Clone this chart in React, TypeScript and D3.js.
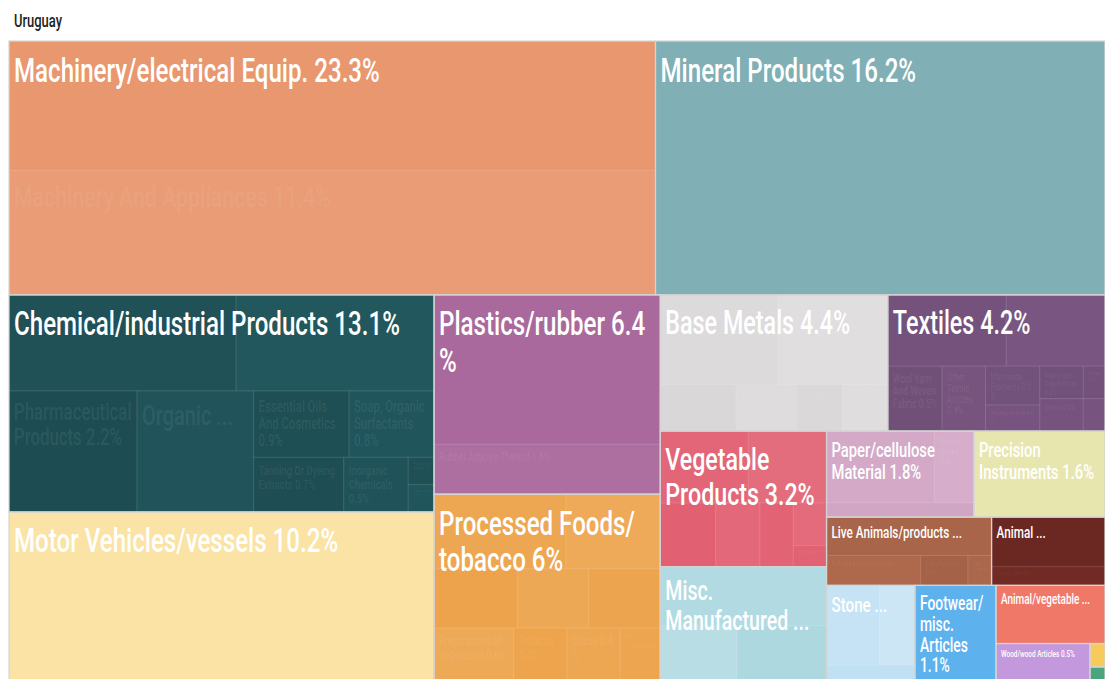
import React from "react";
import * as d3 from "d3";

// ---------- data ----------
const TITLE = "Uruguay";

const sectorNames = [
  "Machinery/electrical Equip.", "Mineral Products", "Chemical/industrial Products",
  "Motor Vehicles/vessels", "Plastics/rubber", "Processed Foods/tobacco", "Base Metals",
  "Textiles", "Vegetable Products", "Misc. Manufactured Articles", "Paper/cellulose Material",
  "Precision Instruments", "Live Animals/products", "Animal Hides", "Stone/glass",
  "Footwear/misc. Articles", "Animal/vegetable Fats", "Wood/wood Articles", "Arts/antiques", "Weapons",
];
const sectorValues = [23.3, 16.2, 13.1, 10.2, 6.4, 6.0, 4.4, 4.2, 3.2, 2.7, 1.8, 1.6, 1.6, 1.1, 1.2, 1.1, 0.9, 0.5, 0.05, 0.03];
const sectorLabels = [
  "Machinery/electrical Equip. 23.3%", "Mineral Products 16.2%", "Chemical/industrial Products 13.1%",
  "Motor Vehicles/vessels 10.2%", "Plastics/rubber 6.4%", "Processed Foods/tobacco 6%", "Base Metals 4.4%",
  "Textiles 4.2%", "Vegetable Products 3.2%", "Misc. Manufactured ...", "Paper/cellulose Material 1.8%",
  "Precision Instruments 1.6%", "Live Animals/products ...", "Animal ...", "Stone ...",
  "Footwear/misc. Articles 1.1%", "Animal/vegetable ...", "Wood/wood Articles 0.5%", "", "",
];
const sectorColors = [
  "#E8976F", "#80B0B5", "#1F5157", "#FBE3A5", "#AA699D", "#EDA651", "#DCDADA",
  "#74527C", "#E26677", "#B2DAE2", "#D3A9C7", "#E8E6AF", "#A8654A", "#6B2822",
  "#C5E3F4", "#5DB2EE", "#F07869", "#C398DD", "#F6CA5B", "#4AA47C",
];
// how the sectors are grouped into strips (h = row across the top, v = column at the left)
const sectorStrips = ["h2", "v2", "v2", "h2", "v2", "h2", "h2", "v1", "v1", "h1", "v1", "v2"];

// sub-products (faint inner cells)
const machineryParts = ["Electrical Machinery", "Machinery And Appliances"];
const machineryValues = [11.9, 11.4];
const mineralParts = ["Mineral Fuels And Oils"];
const mineralValues = [15.9];
const chemicalParts = [
  "Miscellaneous Chemical Products", "Fertilizers", "Pharmaceutical Products", "Organic ...",
  "Essential Oils And Cosmetics", "Soap, Organic Surfactants", "Tanning Or Dyeing Extracts",
  "Inorganic Chemicals", "Photographic Goods", "Albuminoids",
];
const chemicalValues = [3.1, 2.7, 2.2, 2.0, 0.9, 0.8, 0.7, 0.5, 0.1, 0.1];
const plasticsParts = ["Plastics And Articles Thereof", "Rubber Articles Thereof"];
const plasticsValues = [4.8, 1.6];
const foodParts = [
  "Residues From Food Industries", "Miscellaneous Edible Preparations", "Sugars And Sugar Confectionery",
  "Preparations Of Cereals", "Beverages, Spirits And Vinegar", "Preparations Of Vegetables",
  "Tobacco", "Cocoa", "Meat Preparations",
];
const foodValues = [1.4, 1.0, 0.7, 0.6, 0.6, 0.6, 0.4, 0.4, 0.3];
const metalParts = ["Articles Of Iron Or Steel", "Iron And Steel", "Tools And Cutlery", "Aluminium", "Copper", "Misc. Base Metal Articles"];
const metalValues = [1.5, 1.4, 0.5, 0.4, 0.3, 0.3];
const textileParts = [
  "Knitted ...", "Woven ...", "Wool Yarn And Woven Fabric", "Other Textile Articles", "Man-made Filaments",
  "Wadding And Felt", "Man-made Staple Fibres", "Cotton", "Carpets", "Impregnated Fabrics",
];
const textileValues = [1.2, 1.0, 0.5, 0.4, 0.3, 0.2, 0.2, 0.2, 0.1, 0.1];
const vegetableParts = ["Cereals", "Coffee, Tea And ...", "Oil Seeds", "Edible Fruits", "Edible Vegetables", "Live Trees", "Lac, Gums"];
const vegetableValues = [0.9, 0.8, 0.5, 0.4, 0.3, 0.2, 0.1];
const miscParts = ["Furniture", "Toys And Games", "Miscellaneous Articles"];
const miscValues = [1.4, 0.6, 0.7];
const paperParts = ["Paper And Paperboard", "Printed Books", "Pulp Of Wood"];
const paperValues = [1.1, 0.4, 0.3];
const animalParts = ["Meat And Edible Offal", "Fish And Crustaceans", "Dairy Products", "Live Animals"];
const animalValues = [0.9, 0.4, 0.2, 0.1];
const hidesParts = ["Raw Hides And Leather", "Articles Of Leather"];
const hidesValues = [0.8, 0.3];
const stoneParts = ["Glass And Glassware", "Ceramic Products", "Articles Of Stone"];
const stoneValues = [0.6, 0.4, 0.2];

const subsBySector: Record<number, { names: string[]; values: number[]; strips?: string[] }> = {
  0: { names: machineryParts, values: machineryValues, strips: ["v2"] },
  1: { names: mineralParts, values: mineralValues },
  2: { names: chemicalParts, values: chemicalValues, strips: ["h2", "v1", "v1", "h2", "v1"] },
  4: { names: plasticsParts, values: plasticsValues, strips: ["v2"] },
  5: { names: foodParts, values: foodValues, strips: ["h2", "h3", "h4"] },
  6: { names: metalParts, values: metalValues, strips: ["h2", "h4"] },
  7: { names: textileParts, values: textileValues, strips: ["h2", "v1", "v1"] },
  8: { names: vegetableParts, values: vegetableValues, strips: ["h2", "v1", "v1", "v1"] },
  9: { names: miscParts, values: miscValues, strips: ["h1", "h2"] },
  10: { names: paperParts, values: paperValues, strips: ["h2", "h1"] },
  12: { names: animalParts, values: animalValues, strips: ["h1", "h3"] },
  13: { names: hidesParts, values: hidesValues, strips: ["v2"] },
  14: { names: stoneParts, values: stoneValues },
};

// ---------- layout helpers ----------
const W = 1105, H = 679;
const X0 = 9, Y0 = 41, TW = 1096, TH = 640;
const SX = 0.72; // horizontal squeeze to imitate a narrow font
const FONT = "Roboto, 'Liberation Sans', sans-serif";
const MAXFS = 33.5;

function stripTile(spec: string[]) {
  return (parent: any, x0: number, y0: number, x1: number, y1: number) => {
    const kids = parent.children;
    let i = 0;
    let rest = parent.value;
    for (const s of spec) {
      if (i >= kids.length) break;
      const n = +s.slice(1);
      const group = kids.slice(i, i + n);
      const sum = d3.sum(group, (d: any) => d.value);
      const last = i + n >= kids.length;
      const node: any = { children: group, value: sum };
      if (s[0] === "h") {
        const y = last ? y1 : y0 + ((y1 - y0) * sum) / rest;
        d3.treemapDice(node, x0, y0, x1, y);
        y0 = y;
      } else {
        const x = last ? x1 : x0 + ((x1 - x0) * sum) / rest;
        d3.treemapSlice(node, x0, y0, x, y1);
        x0 = x;
      }
      rest -= sum;
      i += n;
    }
    if (i < kids.length) {
      d3.treemapSquarify({ children: kids.slice(i), value: rest } as any, x0, y0, x1, y1);
    }
  };
}

let ctx: CanvasRenderingContext2D | null = null;
function textWidth(s: string, fs: number) {
  if (!ctx) ctx = document.createElement("canvas").getContext("2d");
  ctx!.font = `500 ${fs}px ${FONT}`;
  return ctx!.measureText(s).width * SX;
}

function wrap(text: string, maxW: number, fs: number) {
  const toks = text.match(/[^\s\/%]+\/?\s*|%\s*|\/\s*/g) || [];
  const lines: string[] = [];
  let cur = "";
  for (const t of toks) {
    const cand = cur + t;
    if (cur && textWidth(cand.trimEnd(), fs) > maxW) {
      lines.push(cur.trimEnd());
      cur = t;
    } else cur = cand;
  }
  if (cur.trim()) lines.push(cur.trimEnd());
  return lines;
}

type Fit = { fs: number; lines: string[]; x: number; y: number; bw: number; bh: number };

function fit(text: string, x0: number, y0: number, w: number, h: number, k: number): Fit | null {
  if (!text) return null;
  let fs = Math.min(MAXFS, Math.min(w, h) / k);
  while (fs >= 4) {
    const lines = wrap(text, w - 10, fs);
    const tall = 3 + fs * 1.12 + (lines.length - 1) * fs * 1.08 + fs * 0.25;
    if (lines.every((l) => textWidth(l, fs) <= w - 8) && tall <= h) {
      const bw = Math.max(...lines.map((l) => textWidth(l, fs)));
      return { fs, lines, x: x0 + 5, y: y0 + 3 + fs * 1.12, bw, bh: fs * 0.95 + (lines.length - 1) * fs * 1.08 };
    }
    fs -= 0.5;
  }
  return null;
}

function shade(c: string, i: number) {
  const h = d3.hsl(c);
  const d = [0, 0.016, -0.012, 0.008, -0.007, 0.012, -0.01, 0.005, -0.004, 0.01][i % 10];
  h.l = Math.max(0, Math.min(1, h.l + d));
  return h.formatHex();
}

type Cell = { name: string; label: string; value: number; x0: number; y0: number; x1: number; y1: number; color: string };

function computeLayout() {
  const root = d3
    .hierarchy<any>({ children: sectorNames.map((n, i) => ({ name: n, value: sectorValues[i], idx: i })) })
    .sum((d: any) => d.value || 0);
  d3.treemap<any>().size([TW, TH]).round(false).tile(stripTile(sectorStrips) as any)(root);

  const sectors: Cell[] = [];
  const subs: Cell[] = [];
  (root.children || []).forEach((n: any) => {
    const i = n.data.idx;
    const cell: Cell = {
      name: n.data.name, label: sectorLabels[i], value: n.value,
      x0: X0 + n.x0, y0: Y0 + n.y0, x1: X0 + n.x1, y1: Y0 + n.y1, color: sectorColors[i],
    };
    sectors.push(cell);
    const sub = subsBySector[i];
    if (sub) {
      const sr = d3
        .hierarchy<any>({ children: sub.names.map((nm, j) => ({ name: nm, value: sub.values[j], j })) })
        .sum((d: any) => d.value || 0);
      const tile: any = sub.strips ? stripTile(sub.strips) : d3.treemapSquarify;
      d3.treemap<any>().size([cell.x1 - cell.x0, cell.y1 - cell.y0]).round(false).tile(tile)(sr);
      (sr.children || []).forEach((c: any) => {
        subs.push({
          name: c.data.name,
          label: c.data.name.endsWith("...") ? c.data.name : `${c.data.name} ${c.data.value}%`,
          value: c.value,
          x0: cell.x0 + c.x0, y0: cell.y0 + c.y0, x1: cell.x0 + c.x1, y1: cell.y0 + c.y1,
          color: shade(cell.color, c.data.j),
        });
      });
    }
  });

  const mainFits = sectors.map((c) => fit(c.label, c.x0, c.y0, c.x1 - c.x0, c.y1 - c.y0, 4.2));
  const boxes = mainFits.filter(Boolean).map((f) => ({ x0: f!.x, x1: f!.x + f!.bw, y0: f!.y - f!.fs * 0.8, y1: f!.y - f!.fs * 0.8 + f!.bh + f!.fs * 0.3 }));
  const subFits = subs.map((c) => {
    const f = fit(c.label, c.x0, c.y0, c.x1 - c.x0, c.y1 - c.y0, 4.2);
    if (!f) return null;
    const b = { x0: f.x, x1: f.x + f.bw, y0: f.y - f.fs * 0.8, y1: f.y - f.fs * 0.8 + f.bh + f.fs * 0.3 };
    const hit = boxes.some((m) => b.x0 < m.x1 && b.x1 > m.x0 && b.y0 < m.y1 && b.y1 > m.y0);
    return hit ? null : f;
  });
  return { sectors, subs, mainFits, subFits };
}

function Label({ f, opacity }: { f: Fit | null; opacity: number }) {
  if (!f) return null;
  return (
    <text
      transform={`translate(${f.x},${f.y}) scale(${SX},1)`}
      fontFamily={FONT}
      fontWeight={500}
      fontSize={f.fs}
      fill="#ffffff"
      fillOpacity={opacity}
    >
      {f.lines.map((l, i) => (
        <tspan key={i} x={0} y={i * f.fs * 1.08}>
          {l}
        </tspan>
      ))}
    </text>
  );
}

export default function App() {
  const { sectors, subs, mainFits, subFits } = React.useMemo(computeLayout, []);
  return (
    <svg
      width={W}
      height={H}
      style={{ position: "fixed", left: 0, top: 0, background: "#ffffff" }}
    >
      <text
        transform={`translate(14,27) scale(${SX},1)`}
        fontFamily={FONT}
        fontWeight={500}
        fontSize={18}
        fill="#222"
      >
        {TITLE}
      </text>
      {sectors.map((c, i) => (
        <rect key={"s" + i} x={c.x0} y={c.y0} width={c.x1 - c.x0} height={c.y1 - c.y0} fill={c.color} />
      ))}
      {subs.map((c, i) => (
        <rect
          key={"c" + i}
          x={c.x0}
          y={c.y0}
          width={c.x1 - c.x0}
          height={c.y1 - c.y0}
          fill={c.color}
          stroke="#ffffff"
          strokeOpacity={0.1}
          strokeWidth={1}
        />
      ))}
      {sectors.map((c, i) => (
        <rect
          key={"b" + i}
          x={c.x0}
          y={c.y0}
          width={c.x1 - c.x0}
          height={c.y1 - c.y0}
          fill="none"
          stroke="#d4d4d4"
          strokeWidth={1.2}
        />
      ))}
      {subFits.map((f, i) => (
        <Label key={"cl" + i} f={f} opacity={0.08} />
      ))}
      {mainFits.map((f, i) => (
        <Label key={"sl" + i} f={f} opacity={1} />
      ))}
    </svg>
  );
}
